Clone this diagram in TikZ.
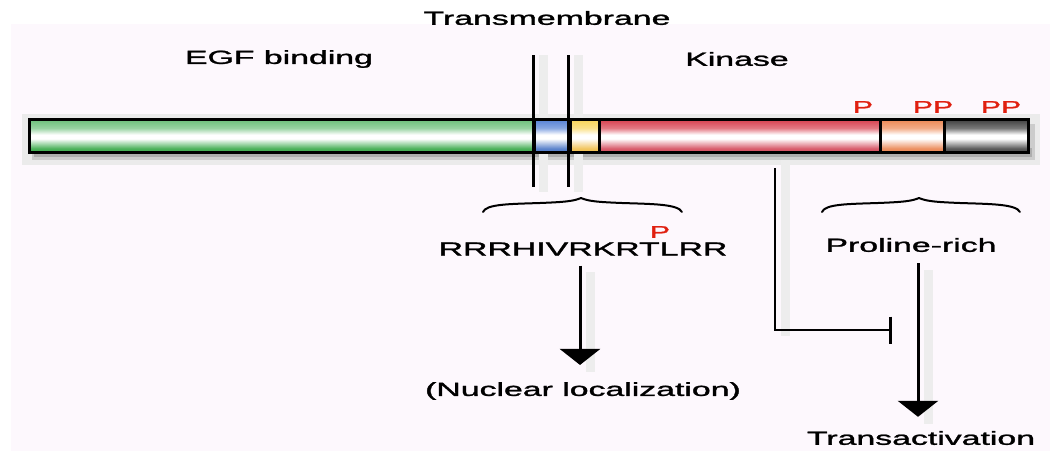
\documentclass[tikz,border=0pt]{standalone}
\usepackage{fontspec}
\usepackage{graphicx}
\setmainfont[FakeBold=1.2]{Liberation Sans}
\usetikzlibrary{arrows.meta}
\definecolor{bgpink}{HTML}{FDF8FD}
\definecolor{pred}{HTML}{E02010}
\newcommand\barshading[3]{%
  \pgfdeclareverticalshading{#1}{100bp}{color(0bp)=(#3); color(25bp)=(#3); color(31bp)=(#3!90!white); color(46bp)=(white); color(52bp)=(white); color(62bp)=(#2!70!white); color(75bp)=(#2); color(100bp)=(#2)}}
\definecolor{gtop}{HTML}{6CC07A}
\definecolor{gbot}{HTML}{38A848}
\definecolor{btop}{HTML}{5682D6}
\definecolor{bbot}{HTML}{4A76C6}
\definecolor{ytop}{HTML}{F8D458}
\definecolor{ybot}{HTML}{F0BE4C}
\definecolor{rtop}{HTML}{D8404F}
\definecolor{rbot}{HTML}{D44A5C}
\definecolor{otop}{HTML}{EC8854}
\definecolor{obot}{HTML}{EA8450}
\definecolor{ktop}{HTML}{404040}
\definecolor{kbot}{HTML}{484848}
\barshading{gshade}{gtop}{gbot}
\barshading{bshade}{btop}{bbot}
\barshading{yshade}{ytop}{ybot}
\barshading{rshade}{rtop}{rbot}
\barshading{oshade}{otop}{obot}
\barshading{kshade}{ktop}{kbot}
\newcommand\wtext[1]{\scalebox{1.78}[1]{#1}}
\begin{document}
\begin{tikzpicture}[x=1pt,y=-1pt,
  lbl/.style={inner sep=0pt, font=\fontsize{19}{19}\selectfont},
  plbl/.style={inner sep=0pt, text=pred, font=\fontsize{17}{17}\selectfont},
  seg/.style={draw=black, line width=3pt, inner sep=0pt, minimum height=33pt, anchor=north west},
  shadowline/.style={line width=9pt, black!7},
  arr/.style={line width=3pt, -{Triangle[width=40pt,length=16pt]}},
  inh/.style={line width=2.5pt, -{Bar[width=27pt,line width=3pt]}},
  brace/.style={line width=2pt, line cap=round, line join=round}]
\useasboundingbox (0,0) rectangle (1050,451);
\fill[white] (0,0) rectangle (1050,451);
\fill[bgpink] (11,24) rectangle (1050,451);
% bar shadow
\fill[black!8] (22,114) rectangle (1040,165);
\fill[black!20] (32,124) rectangle (1035,160);
\fill[black!32] (34,148) rectangle (1032,157);
% shadows of lines
\draw[shadowline] (543,55) -- (543,192);
\draw[shadowline] (578,55) -- (578,192);
\draw[shadowline] (785,160) -- (785,336);
\draw[shadowline] (590,272) -- (590,372);
\draw[shadowline] (928,270) -- (928,424);
% bar segments
\node[seg, minimum width=505pt, shading=gshade] (egfseg) at (28,118) {};
\node[seg, minimum width=36pt, shading=bshade] (bseg) at (533,118) {};
\node[seg, minimum width=29pt, shading=yshade] (yseg) at (569,118) {};
\node[seg, minimum width=281pt, shading=rshade] (redseg) at (598,118) {};
\node[seg, minimum width=64pt, shading=oshade] (oseg) at (879,118) {};
\node[seg, minimum width=84pt, shading=kshade] (kseg) at (943,118) {};
% transmembrane lines
\draw[line width=3pt] (533,55) -- (533,187);
\draw[line width=3pt] (568,55) -- (568,187);
% labels
\node[lbl] (tm) at (547,18) {\wtext{Transmembrane}};
\node[lbl] (egf) at (279,59) {\wtext{EGF binding}};
\node[lbl] (kin) at (737,59) {\wtext{Kinase}};
\node[plbl] (p1) at (863,107) {\wtext{P}};
\node[plbl] (p2) at (933,107) {\wtext{PP}};
\node[plbl] (p3) at (1001,107) {\wtext{PP}};
% braces
\draw[brace] (483,212) .. controls (486,204) and (510,204) .. (540,203) .. controls (566,202) and (574,201) .. (581,198) .. controls (588,201) and (596,202) .. (622,203) .. controls (652,204) and (678,204) .. (682,212);
\draw[brace] (822,212) .. controls (825,204) and (848,204) .. (878,203) .. controls (904,202) and (912,201) .. (919,198) .. controls (926,201) and (934,202) .. (960,203) .. controls (990,204) and (1016,204) .. (1020,212);
\node[lbl] (seq) at (583,249) {\wtext{RRRHIVRKRTLRR}};
\node[plbl] (sp) at (660,232) {\wtext{P}};
\node[lbl] (pro) at (911,245) {\wtext{Proline-rich}};
\node[lbl] (nuc) at (583,391) {\wtext{(Nuclear localization)}};
\node[lbl] (trans) at (921,438) {\wtext{Transactivation}};
% connectors
\coordinate (ax1) at (580,0);
\coordinate (ax2) at (918,0);
\coordinate (ix) at (775,0);
\coordinate (inhe) at (892,330);
\draw[arr] ([yshift=-10pt]seq.south -| ax1) -- ([yshift=17pt]nuc.north -| ax1);
\draw[arr] ([yshift=-11pt]pro.south -| ax2) -- ([yshift=14pt]trans.north -| ax2);
\draw[inh] ([yshift=-14pt]redseg.south -| ix) |- (inhe);
\end{tikzpicture}
\end{document}
